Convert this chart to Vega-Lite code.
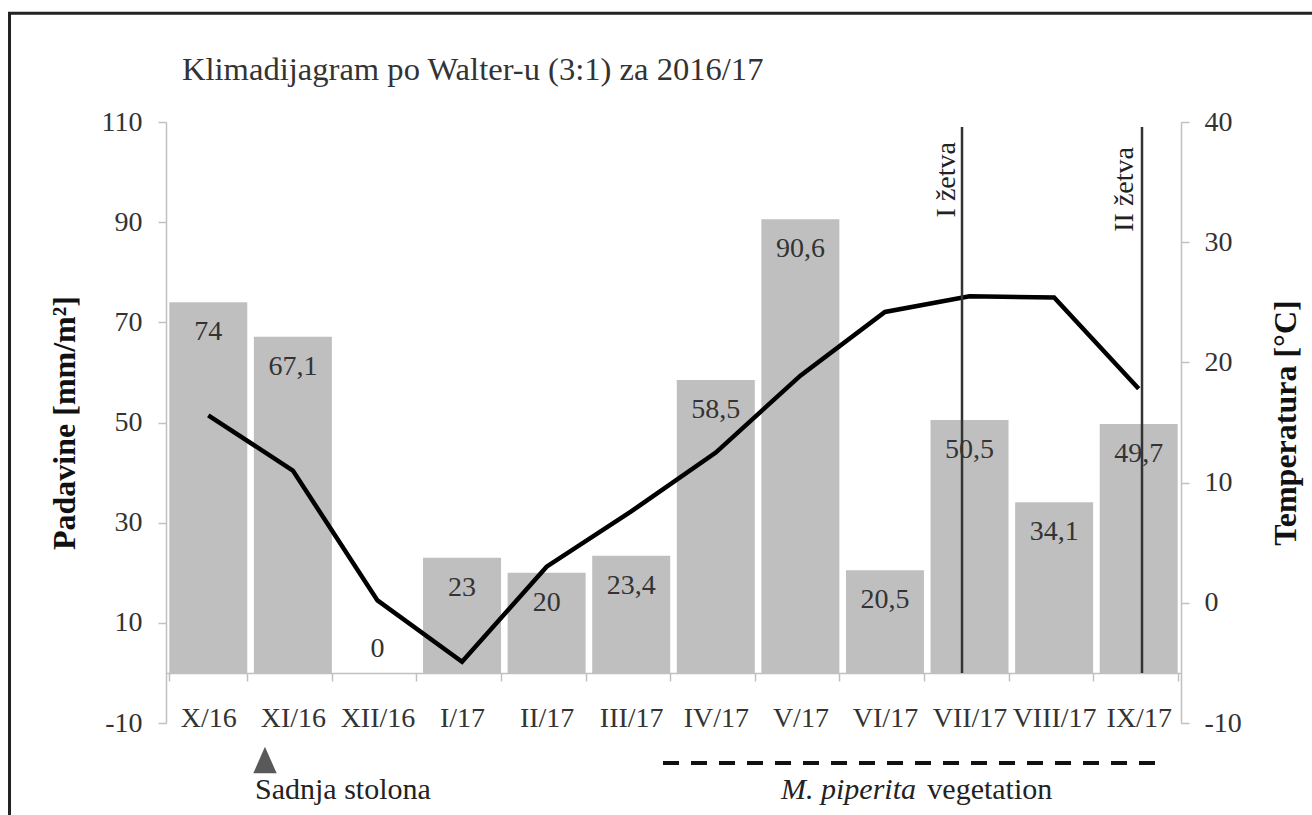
{
  "$schema": "https://vega.github.io/schema/vega-lite/v6.json",
  "width": 1015,
  "height": 601,
  "autosize": {"type": "none"},
  "padding": {"left": 166, "top": 122, "right": 131, "bottom": 92},
  "background": "white",
  "config": {
    "font": "Liberation Serif, serif",
    "view": {"stroke": null},
    "locale": {"number": {"decimal": ",", "thousands": ".", "grouping": [3], "currency": ["", " €"], "minus": "-"}}
  },
  "data": {"values": [
    {"month": "X/16", "precip": 74, "temp": 15.6},
    {"month": "XI/16", "precip": 67.1, "temp": 11.0},
    {"month": "XII/16", "precip": 0, "temp": 0.2},
    {"month": "I/17", "precip": 23, "temp": -4.9},
    {"month": "II/17", "precip": 20, "temp": 3.0},
    {"month": "III/17", "precip": 23.4, "temp": 7.6},
    {"month": "IV/17", "precip": 58.5, "temp": 12.5},
    {"month": "V/17", "precip": 90.6, "temp": 18.9},
    {"month": "VI/17", "precip": 20.5, "temp": 24.2},
    {"month": "VII/17", "precip": 50.5, "temp": 25.5},
    {"month": "VIII/17", "precip": 34.1, "temp": 25.4},
    {"month": "IX/17", "precip": 49.7, "temp": 17.8}
  ]},
  "layer": [
    {
      "encoding": {
        "x": {
          "field": "month", "type": "nominal", "sort": null,
          "scale": {"domain": ["X/16","XI/16","XII/16","I/17","II/17","III/17","IV/17","V/17","VI/17","VII/17","VIII/17","IX/17"], "paddingInner": 0.078, "paddingOuter": 0.039},
          "axis": {
            "title": null, "orient": "bottom", "offset": -50,
            "labelFont": "Liberation Serif, serif", "labelFontSize": 28, "labelColor": "#333",
            "labelAngle": 0, "labelBaseline": "alphabetic", "labelPadding": 45,
            "labelOverlap": false, "labelBound": false,
            "tickBand": "extent", "tickSize": 8, "tickColor": "#c0c0c0", "tickWidth": 1.5,
            "domainColor": "#c0c0c0", "domainWidth": 1.5, "grid": false
          }
        },
        "y": {
          "field": "precip", "type": "quantitative",
          "scale": {"domain": [-10, 110], "nice": false},
          "axis": {
            "orient": "left", "values": [-10, 10, 30, 50, 70, 90, 110], "grid": false,
            "labelFont": "Liberation Serif, serif", "labelFontSize": 28, "labelColor": "#333", "labelPadding": 16,
            "tickSize": 8, "tickColor": "#c0c0c0", "tickWidth": 1.5,
            "domainColor": "#c0c0c0", "domainWidth": 1.5,
            "title": "Padavine [mm/m²]", "titleFont": "Liberation Serif, serif", "titleFontSize": 32,
            "titleFontWeight": "bold", "titleColor": "#111",
            "titleAngle": 270, "titleAlign": "center", "titleBaseline": "middle",
            "titleX": -102, "titleY": 300.5
          }
        }
      },
      "layer": [
        {"mark": {"type": "bar", "color": "#bfbfbf"}},
        {
          "transform": [{"filter": "datum.precip > 0"}],
          "mark": {"type": "text", "font": "Liberation Serif, serif", "fontSize": 28, "color": "#333", "baseline": "alphabetic", "dy": 38},
          "encoding": {"text": {"field": "precip", "type": "quantitative", "format": ".1~f"}}
        },
        {
          "transform": [{"filter": "datum.precip == 0"}],
          "mark": {"type": "text", "font": "Liberation Serif, serif", "fontSize": 28, "color": "#333", "baseline": "alphabetic", "dy": -16},
          "encoding": {"text": {"field": "precip", "type": "quantitative", "format": ".1~f"}}
        }
      ]
    },
    {
      "mark": {"type": "line", "color": "#000", "strokeWidth": 4.5},
      "encoding": {
        "x": {
          "field": "month", "type": "nominal", "sort": null,
          "scale": {"domain": ["X/16","XI/16","XII/16","I/17","II/17","III/17","IV/17","V/17","VI/17","VII/17","VIII/17","IX/17"], "paddingInner": 0.078, "paddingOuter": 0.039},
          "axis": null
        },
        "y": {
          "field": "temp", "type": "quantitative",
          "scale": {"domain": [-10, 40], "nice": false},
          "axis": {
            "orient": "right", "values": [-10, 0, 10, 20, 30, 40], "grid": false,
            "labelFont": "Liberation Serif, serif", "labelFontSize": 28, "labelColor": "#333", "labelPadding": 15,
            "tickSize": 8, "tickColor": "#c0c0c0", "tickWidth": 1.5,
            "domainColor": "#c0c0c0", "domainWidth": 1.5,
            "title": "Temperatura [°C]", "titleFont": "Liberation Serif, serif", "titleFontSize": 32,
            "titleFontWeight": "bold", "titleColor": "#111",
            "titleAngle": 270, "titleAlign": "center", "titleBaseline": "middle",
            "titleX": 104, "titleY": 300.5
          }
        }
      }
    },
    {
      "data": {"values": [{}]},
      "layer": [
        {
          "mark": {"type": "rule", "color": "#333", "strokeWidth": 2.5},
          "encoding": {
            "x": {"datum": 8.911, "type": "quantitative", "scale": {"domain": [-0.5, 11.5], "nice": false, "zero": false}, "axis": null},
            "y": {"datum": 0, "type": "quantitative", "scale": {"domain": [-10, 110], "nice": false, "zero": false}, "axis": null},
            "y2": {"datum": 109}
          }
        },
        {
          "mark": {"type": "rule", "color": "#333", "strokeWidth": 2.5},
          "encoding": {
            "x": {"datum": 11.039, "type": "quantitative"},
            "y": {"datum": 0, "type": "quantitative"},
            "y2": {"datum": 109}
          }
        },
        {
          "mark": {"type": "text", "text": "I žetva", "font": "Liberation Serif, serif", "fontSize": 28, "color": "#222", "angle": 270, "align": "right", "baseline": "alphabetic"},
          "encoding": {
            "x": {"datum": 8.828, "type": "quantitative"},
            "y": {"datum": 106, "type": "quantitative"}
          }
        },
        {
          "mark": {"type": "text", "text": "II žetva", "font": "Liberation Serif, serif", "fontSize": 28, "color": "#222", "angle": 270, "align": "right", "baseline": "alphabetic"},
          "encoding": {
            "x": {"datum": 10.932, "type": "quantitative"},
            "y": {"datum": 105, "type": "quantitative"}
          }
        },
        {
          "mark": {"type": "rule", "color": "#111", "strokeWidth": 4, "strokeDash": [16, 12]},
          "encoding": {
            "x": {"datum": 5.376, "type": "quantitative"},
            "x2": {"datum": 11.29},
            "y": {"datum": -18, "type": "quantitative"}
          }
        },
        {
          "mark": {"type": "point", "shape": "M0,-1L0.88,1L-0.88,1Z", "filled": true, "color": "#595959", "opacity": 1, "size": 708},
          "encoding": {
            "x": {"datum": 0.67, "type": "quantitative"},
            "y": {"datum": -17.4, "type": "quantitative"}
          }
        },
        {
          "mark": {"type": "text", "text": "Sadnja stolona", "font": "Liberation Serif, serif", "fontSize": 30, "color": "#222", "align": "left", "baseline": "alphabetic"},
          "encoding": {
            "x": {"datum": 0.552, "type": "quantitative"},
            "y": {"datum": -25.2, "type": "quantitative"}
          }
        },
        {
          "mark": {"type": "text", "text": "M. piperita", "font": "Liberation Serif, serif", "fontStyle": "italic", "fontSize": 30, "color": "#222", "align": "left", "baseline": "alphabetic"},
          "encoding": {
            "x": {"datum": 6.771, "type": "quantitative"},
            "y": {"datum": -25.2, "type": "quantitative"}
          }
        },
        {
          "mark": {"type": "text", "text": "vegetation", "font": "Liberation Serif, serif", "fontSize": 30, "color": "#222", "align": "right", "baseline": "alphabetic"},
          "encoding": {
            "x": {"datum": 9.978, "type": "quantitative"},
            "y": {"datum": -25.2, "type": "quantitative"}
          }
        },
        {
          "mark": {"type": "text", "text": "Klimadijagram po Walter-u (3:1) za 2016/17", "font": "Liberation Serif, serif", "fontSize": 32.6, "color": "#333", "align": "left", "baseline": "alphabetic"},
          "encoding": {
            "x": {"datum": -0.311, "type": "quantitative"},
            "y": {"datum": 118.4, "type": "quantitative"}
          }
        },
        {
          "mark": {"type": "rect", "fillOpacity": 0, "stroke": "#222", "strokeWidth": 3},
          "encoding": {
            "x": {"datum": -2.35, "type": "quantitative"},
            "x2": {"datum": 14},
            "y": {"datum": 131.7, "type": "quantitative"},
            "y2": {"datum": -40}
          }
        }
      ]
    }
  ],
  "resolve": {"scale": {"x": "independent", "y": "independent"}, "axis": {"x": "independent", "y": "independent"}}
}
